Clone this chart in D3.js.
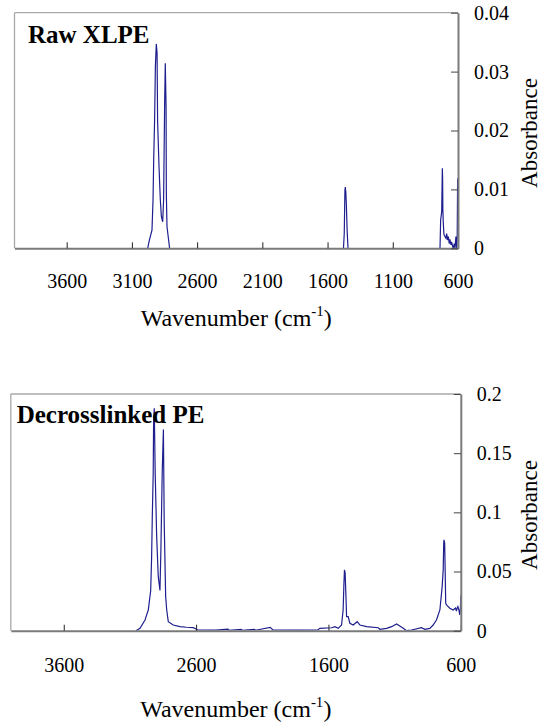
<!DOCTYPE html>
<html>
<head>
<meta charset="utf-8">
<script src="https://cdn.jsdelivr.net/npm/d3@7/dist/d3.min.js"></script>
<style>
  html, body { margin: 0; padding: 0; background: #fff; }
  svg { display: block; }
</style>
</head>
<body>
<svg id="chart" width="544" height="727"></svg>
<script>
// ---------------- DATA ----------------
const xTicksTop = [3600, 3100, 2600, 2100, 1600, 1100, 600];
const yTicksTop = [0, 0.01, 0.02, 0.03, 0.04];
const xTicksBottom = [3600, 2600, 1600, 600];
const yTicksBottom = [0, 0.05, 0.1, 0.15, 0.2];

const titleTop = "Raw XLPE";
const titleBottom = "Decrosslinked PE";

// Raw XLPE spectrum (null = gap)
const rawWavenumber = [
  2979, 2966, 2946, 2938, 2933, 2926, 2920, 2913, 2907, 2903, 2892, 2882, 2874, 2864, 2857, 2849, 2844, 2838, 2836, 2831, 2811,
  null,
  1478, 1472, 1467, 1464, 1460, 1456, 1450, 1443,
  null,
  738, 733, 725, 720, 718, 716, 713, 710, 707, 692, 687, 679, 674, 667, 662, 654, 649, 641, 636, 629, 623, 616, 610, 606, 603, 600
];
const rawAbsorbance = [
  0, 0.0014, 0.0031, 0.0082, 0.0149, 0.0217, 0.0308, 0.0347, 0.0331, 0.0217, 0.0138, 0.0082, 0.0054, 0.0045, 0.0082, 0.0246, 0.0314, 0.0240, 0.0094, 0.0037, 0,
  null,
  0, 0.0025, 0.0098, 0.0104, 0.0095, 0.0075, 0.003, 0,
  null,
  0, 0.0048, 0.0062, 0.0136, 0.012, 0.0065, 0.0045, 0.0031, 0.0023, 0.0017, 0.0025, 0.0014, 0.002, 0.0008, 0.0015, 0.0006, 0.0011, 0.0003, 0, 0.0008, 0, 0.002, 0, 0.002, 0.0116, 0.0119
];

// Decrosslinked PE spectrum
const deWavenumber = [
  3054, 3024, 2986, 2961, 2943, 2936, 2931, 2924, 2921, 2916, 2909, 2898, 2886, 2873, 2866, 2856, 2847, 2841, 2830, 2822, 2810,
  2773, 2722, 2672, 2622, 2600, 2590, 2450, 2360, 2350, 2260, 2250, 2160, 2150, 2040, 2020, 1816, 1680, 1665, 1576, 1551, 1526,
  1501, 1489, 1483, 1479, 1474, 1468, 1463, 1451, 1438, 1413, 1383, 1362, 1312, 1224, 1211, 1161, 1123, 1085, 1061, 1035, 1010,
  972, 897, 872, 834, 809, 784, 758, 741, 733, 729, 727, 722, 718, 714, 708, 683, 658, 640, 633, 628, 622, 614, 608, 603, 600
];
const deAbsorbance = [
  0, 0.002, 0.009, 0.0176, 0.034, 0.062, 0.096, 0.133, 0.178, 0.188, 0.133, 0.08, 0.046, 0.034, 0.068, 0.133, 0.170, 0.092, 0.029, 0.0175, 0.0076,
  0.0048, 0.0034, 0.0029, 0.0026, 0.0015, 0.0006, 0.0005, 0.0014, 0.0004, 0.0012, 0.0004, 0.0012, 0.0004, 0.0028, 0.0006, 0.0005, 0.0006, 0.002, 0.0025, 0.0034, 0.002,
  0.0048, 0.0175, 0.04, 0.0514, 0.049, 0.03, 0.0119, 0.0119, 0.0063, 0.0048, 0.0076, 0.0048, 0.0034, 0.0025, 0.0012, 0.002, 0.0034, 0.0057, 0.004, 0.002, 0,
  0.0006, 0.0025, 0.0012, 0.002, 0.0048, 0.009, 0.0175, 0.037, 0.0514, 0.074, 0.0768, 0.074, 0.05, 0.0232, 0.0218, 0.019, 0.0175, 0.0192, 0.0165, 0.019, 0.0203, 0.0175, 0.0133, 0.018, 0.03
];

// ---------------- DRAW ----------------
const FONT = "'Liberation Serif', 'Times New Roman', Tinos, 'DejaVu Serif', serif";
const svg = d3.select("#chart").attr("font-family", FONT);
const lineColor = "#1e1e8e";

function panel(cfg) {
  const g = svg.append("g");
  const x = d3.scaleLinear().domain([4000, 600]).range([cfg.left, cfg.right]);
  const y = d3.scaleLinear().domain(cfg.yDomain).range([cfg.bottom, cfg.top]);

  const clipId = "clip" + cfg.id;
  svg.append("defs").append("clipPath").attr("id", clipId)
    .append("rect").attr("x", cfg.left).attr("y", cfg.top - 2)
    .attr("width", cfg.right - cfg.left).attr("height", cfg.bottom - cfg.top + 2);

  // frame (top & left lighter)
  g.append("line").attr("x1", cfg.left).attr("x2", cfg.right).attr("y1", cfg.top).attr("y2", cfg.top)
    .attr("stroke", "#a8a8a8").attr("stroke-width", 1.3);
  g.append("line").attr("x1", cfg.left).attr("x2", cfg.left).attr("y1", cfg.top).attr("y2", cfg.bottom)
    .attr("stroke", "#a8a8a8").attr("stroke-width", 1.3);

  // spectrum
  const pts = cfg.wn.map((w, i) => [w, cfg.ab[i]]);
  const line = d3.line()
    .defined(d => d[0] !== null && d[1] !== null)
    .x(d => x(d[0])).y(d => y(d[1]));
  g.append("path").datum(pts)
    .attr("clip-path", `url(#${clipId})`)
    .attr("d", line).attr("fill", "none")
    .attr("stroke", lineColor).attr("stroke-width", 1.2);

  // x axis
  const xAxis = d3.axisBottom(x).tickValues(cfg.xTicks).tickFormat(d3.format("d"))
    .tickSizeInner(-6).tickSizeOuter(0).tickPadding(cfg.xPad);
  const gx = g.append("g").attr("transform", `translate(0,${cfg.bottom})`).call(xAxis)
    .attr("font-family", FONT).attr("font-size", 20);
  gx.select(".domain").attr("stroke", "#7a7a7a").attr("stroke-width", 2);
  gx.selectAll(".tick line").attr("stroke", "#222").attr("stroke-width", 1);
  gx.selectAll(".tick text").attr("fill", "#000").attr("font-family", FONT).attr("font-size", 20);

  // y axis (right)
  const yAxis = d3.axisRight(y).tickValues(cfg.yTicks).tickFormat(d => String(d))
    .tickSizeInner(-7).tickSizeOuter(0).tickPadding(16);
  const gy = g.append("g").attr("transform", `translate(${cfg.right},0)`).call(yAxis)
    .attr("font-family", FONT).attr("font-size", 20);
  gy.select(".domain").attr("stroke", "#7a7a7a").attr("stroke-width", 2);
  gy.selectAll(".tick line").attr("stroke", "#444").attr("stroke-width", 1);
  gy.selectAll(".tick text").attr("fill", "#000").attr("font-family", FONT).attr("font-size", 20);

  // panel title
  g.append("text").attr("x", cfg.titleX).attr("y", cfg.titleY)
    .attr("font-family", FONT).attr("font-size", 25).attr("font-weight", "bold").text(cfg.title);

  // x axis title
  const t = g.append("text").attr("x", (cfg.left + cfg.right) / 2).attr("y", cfg.xTitleY)
    .attr("text-anchor", "middle").attr("font-family", FONT).attr("font-size", 24);
  t.append("tspan").text("Wavenumber (cm");
  t.append("tspan").attr("dy", -10).attr("font-size", 15).text("-1");
  t.append("tspan").attr("dy", 10).text(")");

  // y axis title
  g.append("text").attr("transform", `translate(${cfg.yTitleX},${cfg.yTitleY}) rotate(-90)`)
    .attr("text-anchor", "middle").attr("font-family", FONT).attr("font-size", 23).text("Absorbance");
}

panel({
  id: "top", left: 14.5, right: 458, top: 12.7, bottom: 248.3,
  yDomain: [0, 0.04], xTicks: xTicksTop, yTicks: yTicksTop,
  wn: rawWavenumber, ab: rawAbsorbance, xPad: 26,
  title: titleTop, titleX: 28, titleY: 43.3,
  xTitleY: 326, yTitleX: 537, yTitleY: 133
});

panel({
  id: "bot", left: 10.8, right: 460.8, top: 394, bottom: 630.7,
  yDomain: [0, 0.2], xTicks: xTicksBottom, yTicks: yTicksBottom,
  wn: deWavenumber, ab: deAbsorbance, xPad: 27,
  title: titleBottom, titleX: 16.7, titleY: 423.3,
  xTitleY: 716.7, yTitleX: 537, yTitleY: 515
});
</script>
</body>
</html>
